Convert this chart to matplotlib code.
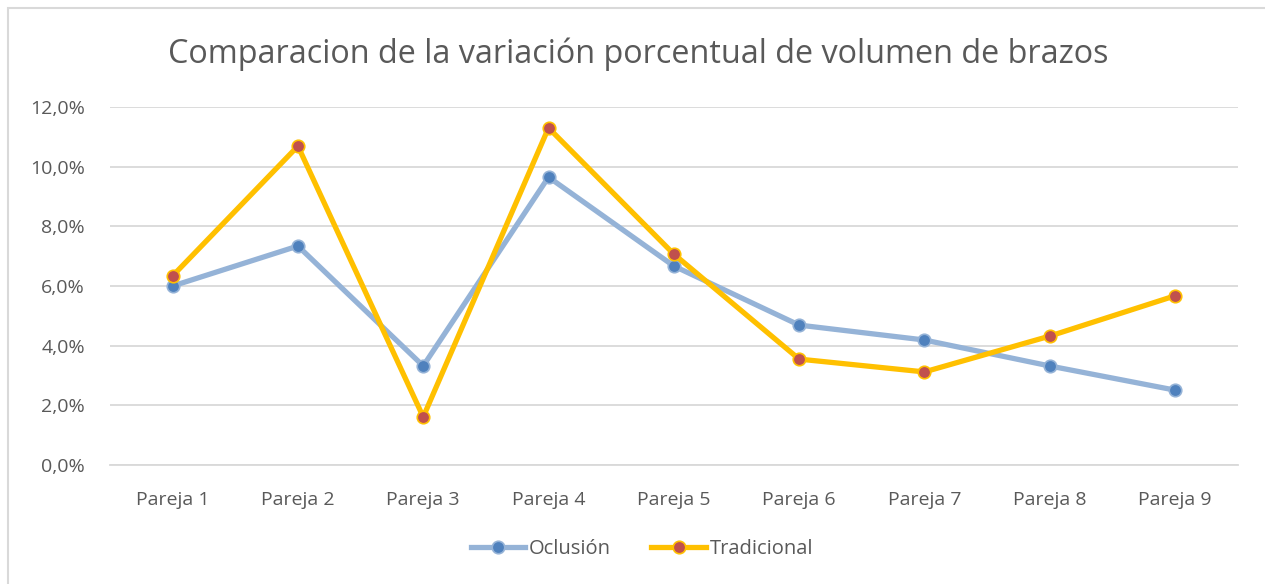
import matplotlib.pyplot as plt
from matplotlib.patches import Rectangle
from matplotlib.ticker import FuncFormatter

categories = ["Pareja 1", "Pareja 2", "Pareja 3", "Pareja 4", "Pareja 5",
              "Pareja 6", "Pareja 7", "Pareja 8", "Pareja 9"]
oclusion = [6.0, 7.34, 3.32, 9.65, 6.67, 4.69, 4.19, 3.32, 2.51]
tradicional = [6.34, 10.69, 1.61, 11.3, 7.07, 3.55, 3.12, 4.32, 5.67]

plt.rcParams['font.family'] = ['Open Sans', 'DejaVu Sans']
text_color = "#595959"

fig = plt.figure(figsize=(12.65, 5.84), dpi=100)
ax = fig.add_axes([110 / 1265, 1 - 465 / 584, (1237.6 - 110) / 1265, (465 - 107) / 584])

# chart frame
fig.patches.append(Rectangle((8 / 1265, -0.01), 1.1, 1 - 8 / 584 + 0.01,
                             transform=fig.transFigure, fill=False,
                             edgecolor="#D9D9D9", linewidth=1.5))

x = range(len(categories))
ax.plot(x, oclusion, color="#95B3D7", linewidth=3.8, marker="o", markersize=9,
        markerfacecolor="#4F81BD", markeredgecolor="#95B3D7", markeredgewidth=1.2,
        label="Oclusión", solid_joinstyle="round", zorder=3)
ax.plot(x, tradicional, color="#FFC000", linewidth=3.8, marker="o", markersize=9,
        markerfacecolor="#C0504D", markeredgecolor="#FFC000", markeredgewidth=1.2,
        label="Tradicional", solid_joinstyle="round", zorder=4)

ax.set_xlim(-0.5, len(categories) - 0.5)
ax.set_ylim(0, 12)
ax.set_yticks([0, 2, 4, 6, 8, 10, 12])
ax.yaxis.set_major_formatter(FuncFormatter(lambda v, p: f"{v:.1f}%".replace(".", ",")))
ax.set_xticks(list(x))
ax.set_xticklabels(categories)

ax.grid(axis="y", color="#D9D9D9", linewidth=1.3)
ax.set_axisbelow(True)
for s in ["top", "right", "left"]:
    ax.spines[s].set_visible(False)
ax.spines["bottom"].set_color("#D9D9D9")
ax.spines["bottom"].set_linewidth(1.3)
ax.tick_params(length=0, labelsize=14, colors=text_color)
ax.tick_params(axis="y", pad=18)
ax.tick_params(axis="x", pad=19)

fig.text(638 / 1265, 1 - 54 / 584, "Comparacion de la variación porcentual de volumen de brazos",
         ha="center", va="center", fontsize=23.3, color=text_color)

fig.legend(loc="center", bbox_to_anchor=(642 / 1265, 1 - 549 / 584), ncol=2, frameon=False,
           fontsize=14.5, labelcolor=text_color, handlelength=2.7, columnspacing=2.0,
           handletextpad=0.2)

fig.savefig("out.png", dpi=100)
